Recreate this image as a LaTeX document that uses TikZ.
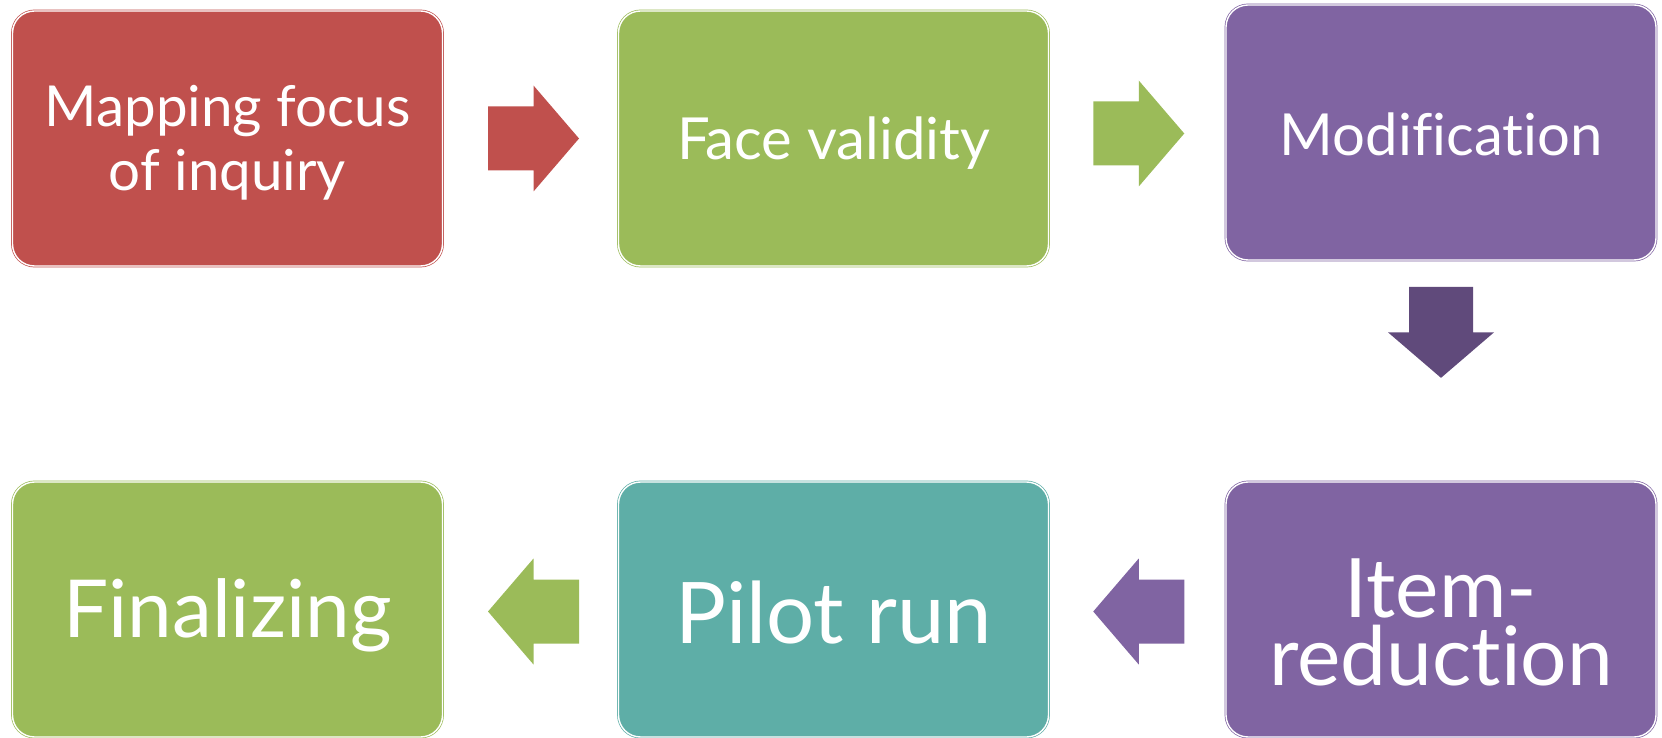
\documentclass[tikz,border=0pt]{standalone}
\usepackage{fontspec}
\setmainfont{Lato}[Ligatures={NoCommon,NoRare,NoDiscretionary}]
\usetikzlibrary{calc}
\definecolor{cred}{HTML}{C0504D}
\definecolor{cgreen}{HTML}{9BBB59}
\definecolor{cpurple}{HTML}{8064A2}
\definecolor{cdpurple}{HTML}{604A7B}
\definecolor{cteal}{HTML}{5EAEA7}
\begin{document}
\begin{tikzpicture}[x=1pt,y=1pt,
  stepbox/.style={rounded corners=22pt, minimum width=430pt, minimum height=255pt,
    inner sep=0pt, draw=#1, fill=#1,
    double=white, double distance=1.4pt, line width=0.7pt},
  steptext/.style={text=white, align=center, inner sep=0pt},
  topfont/.style={font=\fontsize{58}{64}\selectfont},
  botfont/.style={font=\fontsize{80}{68}\selectfont},
  blockarrow/.pic={\fill[#1] (-45.5,-32) -- (0,-32) -- (0,-53) -- (45.5,0) -- (0,53) -- (0,32) -- (-45.5,32) -- cycle;}
]
\useasboundingbox (0,0) rectangle (1662,737);
\node[stepbox=cred] (b1) at (227.5,598.5) {};
\node[stepbox=cgreen] (b2) at (833.5,598.5) {};
\node[stepbox=cpurple] (b3) at (1441,604.5) {};
\node[stepbox=cpurple] (b4) at (1441,127.5) {};
\node[stepbox=cteal] (b5) at (833.5,127.5) {};
\node[stepbox=cgreen] (b6) at (227.5,127.5) {};
\node[steptext,font=\fontsize{56.5}{64}\selectfont] (t1) at ([yshift=-4]b1.center) {Mapping focus\\of inquiry};
\node[steptext,topfont] (t2) at ([yshift=-5]b2.center) {Face validity};
\node[steptext,topfont] (t3) at ([yshift=-2]b3.center) {Modification};
\node[steptext,font=\fontsize{82}{68}\selectfont] (t4) at ([yshift=-13]b4.center) {Item-\\reduction};
\node[steptext,font=\fontsize{85}{68}\selectfont] (t5) at ([yshift=-3]b5.center) {Pilot run};
\node[steptext,botfont] (t6) at ([yshift=-6]b6.center) {Finalizing};
\path ($(b1.east)!0.5!(b2.west)+(3,0)$) pic {blockarrow=cred};
\path ($(b2.east)!0.5!(b3.west)+(1.5,2)$) pic {blockarrow=cgreen};
\path ($(b3.south)+(0,-72)$) pic[rotate=-90] {blockarrow=cdpurple};
\path ($(b4.west)!0.5!(b5.east)+(1.5,-2)$) pic[rotate=180] {blockarrow=cpurple};
\path ($(b5.west)!0.5!(b6.east)+(3,-2)$) pic[rotate=180] {blockarrow=cgreen};
\end{tikzpicture}
\end{document}
